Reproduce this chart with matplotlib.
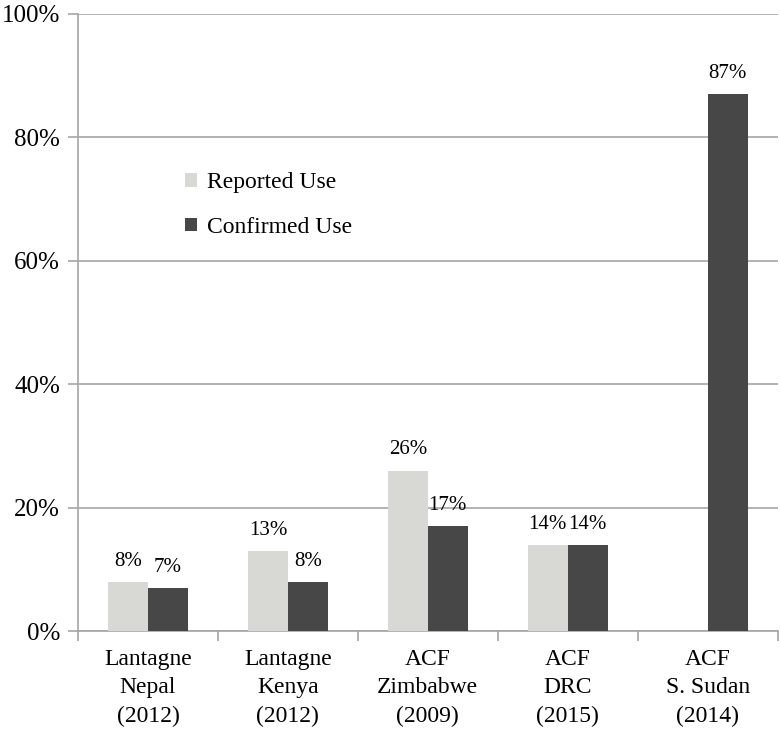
import numpy as np
import matplotlib.pyplot as plt

plt.rcParams['font.family'] = ['Liberation Serif', 'DejaVu Serif']

# Study labels and usage values (%)
studies = ["Lantagne\nNepal\n(2012)", "Lantagne\nKenya\n(2012)", "ACF\nZimbabwe\n(2009)",
           "ACF\nDRC\n(2015)", "ACF\nS. Sudan\n(2014)"]
reported = [8, 13, 26, 14, np.nan]
confirmed = [7, 8, 17, 14, 87]

light = "#d8d8d5"
dark = "#474747"
grey = "#a6a6a6"

fig = plt.figure(figsize=(7.8, 7.29), dpi=100)
ax = fig.add_axes([0.1, 0.1344, 0.897, 0.8464])

x = np.arange(len(studies))
w = 0.2857
b1 = ax.bar(x - w / 2, reported, w, color=light, label="Reported Use", zorder=3)
b2 = ax.bar(x + w / 2, confirmed, w, color=dark, label="Confirmed Use", zorder=3)

lab1 = ["" if np.isnan(v) else f"{v:.0f}%" for v in reported]
ax.bar_label(b1, labels=lab1, padding=8, fontsize=15)
ax.bar_label(b2, labels=[f"{v}%" for v in confirmed], padding=8, fontsize=15)

ax.set_ylim(0, 100)
ax.set_xlim(-0.5, len(studies) - 0.5)
ax.set_yticks(np.arange(0, 101, 20))
ax.set_yticklabels([f"{v}%" for v in range(0, 101, 20)], fontsize=18)
ax.yaxis.grid(True, color=grey, linewidth=1.2, zorder=0)

ax.set_xticks(x)
ax.set_xticklabels(studies, fontsize=17, linespacing=1.45)
ax.set_xticks(np.arange(-0.5, len(studies)), minor=True)
ax.tick_params(axis='x', which='major', length=0, pad=13)
ax.tick_params(axis='x', which='minor', length=7, color=grey, width=1.2)
ax.tick_params(axis='y', length=7, color=grey, width=1.2, pad=6)

for s in ['top', 'right']:
    ax.spines[s].set_visible(False)
for s in ['left', 'bottom']:
    ax.spines[s].set_color(grey)
    ax.spines[s].set_linewidth(1.2)

ax.legend(loc='center left', bbox_to_anchor=(0.153, 0.69), frameon=False,
          fontsize=17, handlelength=0.5, handleheight=0.5, handletextpad=0.45,
          labelspacing=1.0, borderpad=0, borderaxespad=0)

fig.savefig("out.png", dpi=100)
